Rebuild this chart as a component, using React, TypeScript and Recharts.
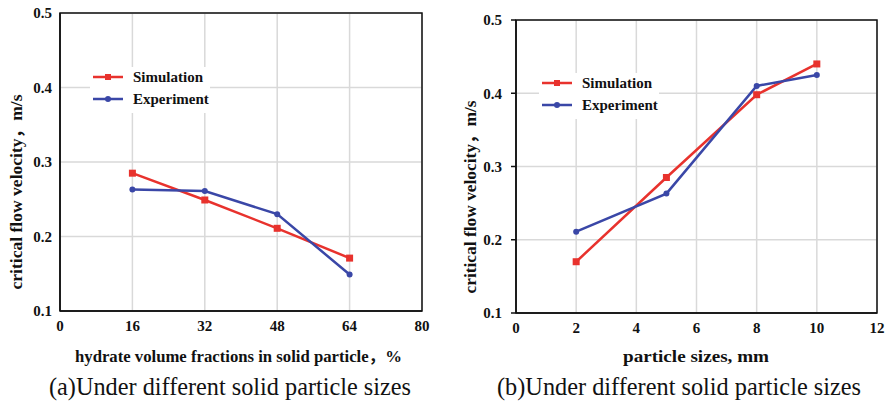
import React from "react";
import {
    LineChart,
    Line,
    XAxis,
    YAxis,
    CartesianGrid,
    ReferenceArea,
    Legend,
} from "recharts";

// chart (a): hydrate volume fraction, %
const fractions = [16, 32, 48, 64];
const simulationA = [0.285, 0.249, 0.211, 0.171];
const experimentA = [0.263, 0.261, 0.23, 0.149];
const fractionTicks = [0, 16, 32, 48, 64, 80];

// chart (b): particle size, mm
const sizes = [2, 5, 8, 10];
const simulationB = [0.17, 0.285, 0.398, 0.44];
const experimentB = [0.211, 0.263, 0.41, 0.425];
const sizeTicks = [0, 2, 4, 6, 8, 10, 12];

const velocityTicks = [0.1, 0.2, 0.3, 0.4, 0.5];

const RED = "#e8322d";
const BLUE = "#3a47a7";
const FONT = "Liberation Serif, Tinos, Times New Roman, Times, serif";
const CJK = "Noto Sans CJK SC";

const dataA = fractions.map((x, i) => ({ x, sim: simulationA[i], exp: experimentA[i] }));
const dataB = sizes.map((x, i) => ({ x, sim: simulationB[i], exp: experimentB[i] }));

const tickStyle = { fill: "#111", fontSize: 15, fontWeight: 700, fontFamily: FONT };

const SquareDot = (props: any) => {
    const { cx, cy } = props;
    if (cx == null || cy == null) return null;
    return <rect x={cx - 3.5} y={cy - 3.5} width={7} height={7} fill={RED} />;
};

const LegendBox = (props: any) => {
    const items = [...(props.payload || [])].sort((a: any, b: any) =>
        a.dataKey === "sim" ? -1 : b.dataKey === "sim" ? 1 : 0
    );
    return (
        <svg width={120} height={46} style={{ background: "#fff", display: "block" }}>
            {items.map((it: any, i: number) => {
                const y = 10 + i * 22;
                const isSim = it.dataKey === "sim";
                return (
                    <g key={it.value}>
                        <line x1={3} x2={33} y1={y} y2={y} stroke={it.color} strokeWidth={2.5} />
                        {isSim ? (
                            <rect x={15} y={y - 3} width={6} height={6} fill={it.color} />
                        ) : (
                            <circle cx={18} cy={y} r={3} fill={it.color} />
                        )}
                        <text x={43} y={y + 5} fontSize={15} fontWeight={700} fontFamily={FONT} fill="#111">
                            {it.value}
                        </text>
                    </g>
                );
            })}
        </svg>
    );
};

type PanelProps = {
    data: any[];
    ticks: number[];
    width: number;
    margin: any;
    yWidth: number;
    yTickSize: number;
    legendPos: { left: number; top: number };
};

function Panel({ data, ticks, width, margin, yWidth, yTickSize, legendPos }: PanelProps) {
    const xMax = ticks[ticks.length - 1];
    return (
        <LineChart width={width} height={408} data={data} margin={margin} style={{ fontFamily: FONT }}>
            <CartesianGrid stroke="#d9d9d9" strokeWidth={1.5} />
            <XAxis
                dataKey="x"
                type="number"
                domain={[0, xMax]}
                ticks={ticks}
                height={margin.xh}
                tickLine={false}
                tickMargin={3}
                axisLine={{ stroke: "#111", strokeWidth: 1.5 }}
                tick={tickStyle}
            />
            <YAxis
                type="number"
                domain={[0.1, 0.5]}
                ticks={velocityTicks}
                width={yWidth}
                tickFormatter={(v: number) => v.toFixed(1)}
                tickSize={yTickSize}
                tickLine={yTickSize > 0 ? { stroke: "#111", strokeWidth: 1.5 } : false}
                tickMargin={yTickSize > 0 ? 9 : 8}
                axisLine={{ stroke: "#111", strokeWidth: 1.5 }}
                tick={tickStyle}
            />
            <ReferenceArea x1={0} x2={xMax} y1={0.1} y2={0.5} fill="none" stroke="#111" strokeWidth={1.5} />
            <Legend
                layout="horizontal"
                verticalAlign="middle"
                align="center"
                content={<LegendBox />}
                wrapperStyle={{ left: legendPos.left, top: legendPos.top, width: 120 }}
            />
            <Line
                dataKey="sim"
                name="Simulation"
                stroke={RED}
                strokeWidth={2.5}
                dot={<SquareDot />}
                isAnimationActive={false}
            />
            <Line
                dataKey="exp"
                name="Experiment"
                stroke={BLUE}
                strokeWidth={2.5}
                dot={{ r: 3, fill: BLUE, stroke: BLUE, strokeWidth: 0 }}
                isAnimationActive={false}
            />
        </LineChart>
    );
}

export default function App() {
    return (
        <div style={{ position: "absolute", left: 0, top: 0, width: 887, height: 408, background: "#fff", fontFamily: FONT }}>
            <div style={{ position: "absolute", left: 0, top: 0 }}>
                <Panel
                    data={dataA}
                    ticks={fractionTicks}
                    width={440}
                    margin={{ top: 13, right: 18, left: 0, bottom: 0, xh: 97 }}
                    yWidth={60}
                    yTickSize={0}
                    legendPos={{ left: 90, top: 67 }}
                />
            </div>
            <div style={{ position: "absolute", left: 440, top: 0 }}>
                <Panel
                    data={dataB}
                    ticks={sizeTicks}
                    width={447}
                    margin={{ top: 20, right: 10, left: 0, bottom: 0, xh: 95 }}
                    yWidth={76}
                    yTickSize={5}
                    legendPos={{ left: 99, top: 73 }}
                />
            </div>
            <svg
                width={887}
                height={408}
                style={{ position: "absolute", left: 0, top: 0, pointerEvents: "none", fontFamily: FONT }}
                fill="#111"
            >
                <text transform="translate(22,192) rotate(-90)" textAnchor="middle" fontSize={17} fontWeight={700} textLength={195} lengthAdjust="spacingAndGlyphs">
                    critical flow velocity<tspan fontFamily={CJK}>，</tspan>m/s
                </text>
                <text transform="translate(476,197) rotate(-90)" textAnchor="middle" fontSize={17} fontWeight={700} textLength={193} lengthAdjust="spacingAndGlyphs">
                    critical flow velocity<tspan fontFamily={CJK}>，</tspan>m/s
                </text>
                <text x={75} y={362} fontSize={16} fontWeight={700} textLength={327} lengthAdjust="spacingAndGlyphs">
                    hydrate volume fractions in solid particle<tspan fontFamily={CJK}>，</tspan>%
                </text>
                <text x={623} y={362} fontSize={17} fontWeight={700} textLength={146} lengthAdjust="spacingAndGlyphs">
                    particle sizes, mm
                </text>
                <text x={49} y={395} fontSize={26} textLength={362} lengthAdjust="spacingAndGlyphs">
                    (a)Under different solid particle sizes
                </text>
                <text x={497} y={395} fontSize={26} textLength={364} lengthAdjust="spacingAndGlyphs">
                    (b)Under different solid particle sizes
                </text>
            </svg>
        </div>
    );
}
